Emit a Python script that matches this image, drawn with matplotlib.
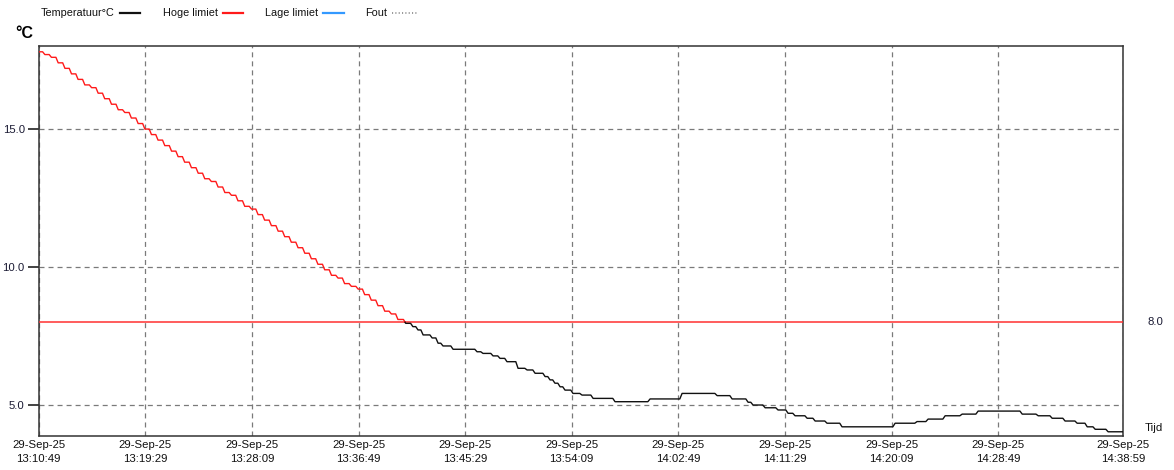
import matplotlib
matplotlib.use("Agg")
import matplotlib.pyplot as plt
from matplotlib.lines import Line2D

plt.rcParams['font.family'] = ['Liberation Sans', 'DejaVu Sans']
plt.rcParams['lines.scale_dashes'] = False

# ---------------- data ----------------
date_label = "29-Sep-25"
start_time = "13:10:49"
tick_times = ["13:10:49", "13:19:29", "13:28:09", "13:36:49", "13:45:29",
              "13:54:09", "14:02:49", "14:11:29", "14:20:09", "14:28:49", "14:38:59"]

# seconds since start of each reading (level changes) and temperature (°C)
t_seconds = [0, 30, 62, 95, 128, 160, 192, 225, 258, 290, 322, 355, 388, 420,
             452, 485, 518, 550, 582, 615, 648, 680, 712, 745, 778, 810, 842,
             875, 908, 940, 972, 1005, 1038, 1070, 1102, 1135, 1168, 1200, 1232,
             1265, 1298, 1330, 1362, 1395, 1428, 1460, 1492, 1525, 1558, 1590,
             1622, 1655, 1688, 1720, 1752,
             1790, 1825, 1850, 1875, 1919, 1948, 1972, 2021, 2138, 2167, 2216,
             2250, 2284, 2338, 2382, 2421, 2470, 2494, 2518, 2543, 2567, 2606,
             2650, 2704, 2811, 2982, 3138, 3309, 3382, 3460, 3484, 3543, 3606,
             3655, 3689, 3748, 3787, 3845, 3918, 4177, 4284, 4338, 4421, 4504,
             4582, 4797, 4875, 4943, 5006, 5065, 5114, 5153, 5216, 5290]
temps = [17.8, 17.7, 17.6, 17.4, 17.2, 17.0, 16.8, 16.6, 16.5, 16.3, 16.1, 15.9,
         15.7, 15.6, 15.4, 15.2, 15.0, 14.8, 14.6, 14.4, 14.2, 14.0, 13.8, 13.6,
         13.4, 13.2, 13.1, 12.9, 12.7, 12.6, 12.4, 12.2, 12.1, 11.9, 11.7, 11.5,
         11.3, 11.1, 10.9, 10.7, 10.5, 10.3, 10.1, 9.9, 9.7, 9.6, 9.4, 9.3, 9.2,
         9.0, 8.8, 8.6, 8.4, 8.3, 8.1,
         7.96, 7.84, 7.72, 7.54, 7.43, 7.24, 7.14, 7.02, 6.93, 6.87, 6.78, 6.69,
         6.57, 6.33, 6.27, 6.15, 6.03, 5.91, 5.79, 5.66, 5.54, 5.42, 5.36, 5.24,
         5.12, 5.22, 5.42, 5.34, 5.22, 5.10, 5.00, 4.90, 4.82, 4.70, 4.61, 4.52,
         4.42, 4.34, 4.21, 4.34, 4.40, 4.49, 4.61, 4.67, 4.78, 4.67, 4.61, 4.52,
         4.42, 4.34, 4.21, 4.12, 4.03, 4.03]

high_limit = 8.0
y_ticks = [5.0, 10.0, 15.0]
legend_labels = ["Temperatuur°C", "Hoge limiet", "Lage limiet", "Fout"]


def to_sec(s):
    h, m, sec = (int(v) for v in s.split(":"))
    return h * 3600 + m * 60 + sec


t0 = to_sec(start_time)
tick_pos = [to_sec(s) - t0 for s in tick_times]
tick_labels = [f"{date_label}\n{s}" for s in tick_times]

# ---------------- figure ----------------
W, H = 1174, 470
fig = plt.figure(figsize=(W / 100, H / 100), dpi=100)
ax = fig.add_axes([38.7 / W, 1 - 436 / H, (1123.3 - 38.7) / W, (436 - 46) / H])

# build a staircase path with short sloped transitions (as the logger draws it)
RAMP = 11  # seconds for a level change
px, py = [t_seconds[0]], [temps[0]]
for i in range(1, len(t_seconds)):
    tprev, vprev = t_seconds[i - 1], temps[i - 1]
    t, v = t_seconds[i], temps[i]
    if v != vprev:
        px.append(max(tprev, t - RAMP)); py.append(vprev)
    px.append(t); py.append(v)

# split path where it crosses the high limit
k = next(i for i, v in enumerate(py) if v < high_limit)
x0, y0, x1, y1 = px[k - 1], py[k - 1], px[k], py[k]
xc = x0 + (y0 - high_limit) / (y0 - y1) * (x1 - x0)
red_x, red_y = px[:k] + [xc], py[:k] + [high_limit]
blk_x, blk_y = [xc] + px[k:], [high_limit] + py[k:]

ax.plot(red_x, red_y, color='#ff1a1a', lw=1.0, zorder=4)
ax.plot(blk_x, blk_y, color='#111111', lw=1.0, zorder=4)
ax.axhline(high_limit, color='#ff3030', lw=1.1, zorder=3)

ax.set_xlim(tick_pos[0], tick_pos[-1])
ax.set_ylim(3.877, 18.01)

ax.set_xticks(tick_pos)
ax.set_xticklabels(tick_labels, fontsize=8.2, color='#111111', linespacing=1.45)
ax.set_yticks(y_ticks)
ax.set_yticklabels([f"{v:.1f}" for v in y_ticks], fontsize=8.2, color='#1a1a33')
ax.tick_params(axis='x', length=0, pad=3)
ax.tick_params(axis='y', length=8, width=1.2, color='#222222', pad=2)

ax.grid(True, color='#7a7a7a', lw=0.9, linestyle=(0, (3.6, 2.9)))
for sp in ax.spines.values():
    sp.set_color('#333333')
    sp.set_linewidth(1.1)

# right-side label for limit
ax.annotate(f"{high_limit:.1f}", xy=(1, high_limit), xycoords=('axes fraction', 'data'),
            xytext=(32, 0), textcoords='offset pixels', ha='center', va='center',
            fontsize=8.2, color='#1a1a33')

# axis titles
fig.text(15 / W, 1 - 34 / H, "°C", fontsize=11.5, fontweight='bold', ha='left', va='center')
fig.text(1145 / W, 1 - 428 / H, "Tijd", fontsize=8.2, ha='left', va='center', color='#111111')

# legend (manual): text then a line sample right after it
leg_y = 1 - 13 / H
entries = [
    (legend_labels[0], 41, 20, dict(color='#111111', lw=1.6, ls='-')),
    (legend_labels[1], 163, 20, dict(color='#ff1a1a', lw=1.6, ls='-')),
    (legend_labels[2], 265, 21, dict(color='#3399ff', lw=1.6, ls='-')),
    (legend_labels[3], 365, 25, dict(color='#999999', lw=1.4, ls=(0, (0.8, 1.6)))),
]
renderer = fig.canvas.get_renderer()
for label, tx, llen, style in entries:
    txt = fig.text(tx / W, leg_y, label, fontsize=7.8, ha='left', va='center', color='#111111')
    bb = txt.get_window_extent(renderer=renderer)
    lx0 = bb.x1 + 5
    fig.add_artist(Line2D([lx0 / W, (lx0 + llen) / W], [leg_y, leg_y],
                          transform=fig.transFigure, **style))

fig.savefig("out.png", dpi=100)
